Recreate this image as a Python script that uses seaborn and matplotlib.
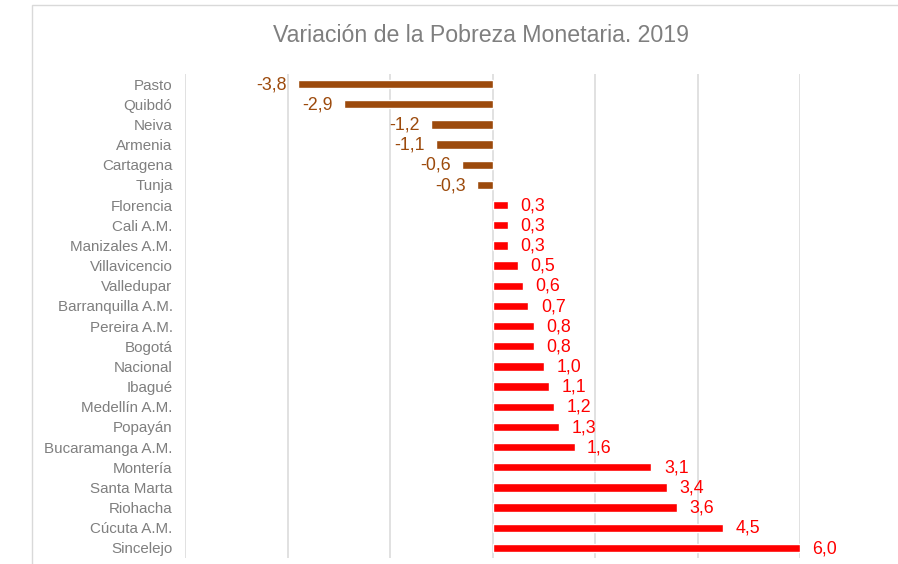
import matplotlib
matplotlib.use("Agg")
import matplotlib.pyplot as plt
import matplotlib.patches as mpatches
import seaborn as sns
import pandas as pd

# Data
ciudades = ["Pasto", "Quibdó", "Neiva", "Armenia", "Cartagena", "Tunja",
            "Florencia", "Cali A.M.", "Manizales A.M.", "Villavicencio",
            "Valledupar", "Barranquilla A.M.", "Pereira A.M.", "Bogotá",
            "Nacional", "Ibagué", "Medellín A.M.", "Popayán",
            "Bucaramanga A.M.", "Montería", "Santa Marta", "Riohacha",
            "Cúcuta A.M.", "Sincelejo"]
variacion = [-3.8, -2.9, -1.2, -1.1, -0.6, -0.3,
             0.3, 0.3, 0.3, 0.5, 0.6, 0.7, 0.8, 0.8,
             1.0, 1.1, 1.2, 1.3, 1.6, 3.1, 3.4, 3.6, 4.5, 6.0]

color_neg = "#9C4A0C"
color_pos = "#FF0000"
colores = [color_neg if v < 0 else color_pos for v in variacion]

df = pd.DataFrame({"ciudad": ciudades, "variacion": variacion})

sns.set_style("white")
plt.rcParams["font.family"] = ["Liberation Sans", "DejaVu Sans"]

fig = plt.figure(figsize=(8.98, 5.64), dpi=100)
ax = fig.add_axes([185 / 898, 1 - 558 / 564, (800 - 185) / 898, (558 - 74) / 564])

sns.barplot(data=df, x="variacion", y="ciudad", hue="ciudad",
            palette=colores, legend=False, orient="h", width=0.42,
            saturation=1, ax=ax)

ax.set_xlim(-6, 6)
ax.set_ylim(len(ciudades) - 0.5, -0.5)
ax.set_xticks([-6, -4, -2, 0, 2, 4, 6])
ax.set_xticklabels([])
ax.grid(axis="x", color="#D9D9D9", lw=1.1)
ax.set_axisbelow(True)
for s in ax.spines.values():
    s.set_visible(False)
ax.tick_params(axis="both", length=0)
ax.tick_params(axis="y", labelsize=10.9, labelcolor="#7F7F7F", pad=9)
ax.set_xlabel("")
ax.set_ylabel("")

# data labels
for i, (v, c) in enumerate(zip(variacion, colores)):
    txt = f"{v:.1f}".replace(".", ",")
    if v < 0:
        ax.annotate(txt, (v, i), xytext=(-8, -0.5), textcoords="offset points",
                    ha="right", va="center", color=c, fontsize=12.8)
    else:
        ax.annotate(txt, (v, i), xytext=(9, -0.5), textcoords="offset points",
                    ha="left", va="center", color=c, fontsize=12.8)

fig.text(481 / 898, 1 - 35 / 564, "Variación de la Pobreza Monetaria. 2019",
         ha="center", va="center", fontsize=16.7, color="#7F7F7F")

# chart area border
fig.patches.append(mpatches.Rectangle((32 / 898, -0.1), 1.2, 1.1 - 5 / 564,
                                      transform=fig.transFigure, fill=False,
                                      edgecolor="#D9D9D9", lw=1))

fig.savefig("out.png", dpi=100)
